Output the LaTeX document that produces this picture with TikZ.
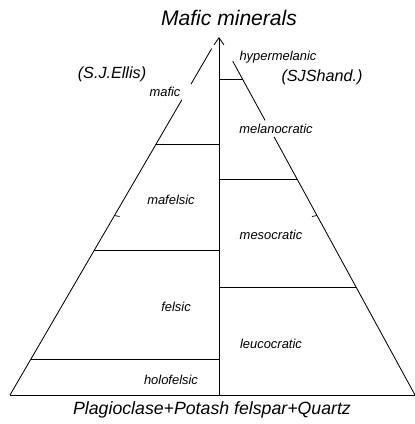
\documentclass[tikz,border=0pt]{standalone}
\usepackage{fontspec}
\setmainfont{Liberation Sans}
\usetikzlibrary{arrows.meta, calc, positioning}

\tikzset{
  side/.style={line width=0.6pt},
  divider/.style={line width=0.5pt},
  lbl/.style={font=\itshape\fontsize{9.2}{11}\selectfont, inner sep=1pt},
  author/.style={font=\itshape\fontsize{11.5}{13}\selectfont, inner sep=1pt},
  ttl/.style={font=\itshape\fontsize{15}{17}\selectfont, inner sep=1pt},
  base/.style={font=\itshape\fontsize{12.6}{15}\selectfont, inner sep=1pt}
}

\begin{document}
\begin{tikzpicture}[x=0.025cm, y=-0.025cm]
  \useasboundingbox (0,0) rectangle (415,424);

  % corners of the triangle
  \coordinate (apex) at (219,36);
  \coordinate (lb) at (10,395);
  \coordinate (rb) at (415,395);
  \coordinate (axtop) at (219,37);

  % base and central axis
  \draw[side] (lb) -- (rb);
  \draw[side, -{Straight Barb[length=5pt, width=7pt]}] (apex |- lb) -- (axtop);

  % left side, broken at the mafic label
  \draw[side] ($(apex)!0.035!(lb)$) -- ($(apex)!0.134!(lb)$);
  \draw[side] ($(apex)!0.178!(lb)$) -- (lb);
  % right side, broken at the melanocratic label
  \draw[side] ($(apex)!0.07!(rb)$) -- ($(apex)!0.235!(rb)$);
  \draw[side] ($(apex)!0.281!(rb)$) -- (rb);

  % dividers (S.J.Ellis)
  \foreach \f in {0.303, 0.596, 0.9} {
    \coordinate (p) at ($(apex)!\f!(lb)$);
    \draw[divider] (p) -- (p -| apex);
  }
  % dividers (S.J.Shand)
  \foreach \f in {0.12, 0.398, 0.699} {
    \coordinate (p) at ($(apex)!\f!(rb)$);
    \draw[divider] (p -| apex) -- (p);
  }

  % half-way ticks
  \coordinate (lm) at ($(apex)!0.5!(lb)$);
  \coordinate (rm) at ($(apex)!0.5!(rb)$);
  \draw[divider] (lm) -- ++(5,1);
  \draw[divider] (rm) -- ++(-5,1);

  % labels
  \node[ttl] (top) at (229,18) {Mafic minerals};
  \node[base] (bottom) at (212,410) {Plagioclase+Potash felspar+Quartz};
  \node[author] (ellis) at (112,74) {(S.J.Ellis)};
  \node[author] (shand) at (322,77) {(SJShand.)};

  \node[lbl] (mafic) at (165,92) {mafic};
  \node[lbl] (mafelsic) at (171,200) {mafelsic};
  \node[lbl] (felsic) at (176,307) {felsic};
  \node[lbl] (holofelsic) at (171,380) {holofelsic};

  \node[lbl] (hyper) at (278,57) {hypermelanic};
  \node[lbl] (melano) at (276,129) {melanocratic};
  \node[lbl] (meso) at (271,235) {mesocratic};
  \node[lbl] (leuco) at (271,344) {leucocratic};
\end{tikzpicture}
\end{document}
